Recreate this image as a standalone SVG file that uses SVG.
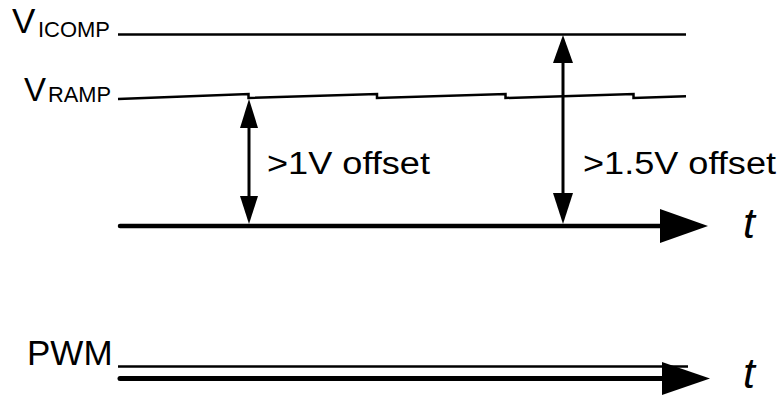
<svg xmlns="http://www.w3.org/2000/svg" width="780" height="398" viewBox="0 0 780 398">
<style>
text{font-family:"Liberation Sans",Arial,sans-serif;fill:#000}
.ln{stroke:#000;fill:none}
.t{font-style:italic;font-size:43px}
.lab{font-size:31px}
</style>
<rect width="780" height="398" fill="#fff"/>
<g id="labels">
<g id="vicomp"><text x="12" y="33" font-size="35">V</text><text x="38" y="37" font-size="22" textLength="72" lengthAdjust="spacingAndGlyphs">ICOMP</text></g>
<g id="vramp"><text x="24" y="101" font-size="33">V</text><text x="48" y="102" font-size="22" textLength="63" lengthAdjust="spacingAndGlyphs">RAMP</text></g>
<g id="pwm"><text x="27" y="365" font-size="35">PWM</text></g>
<g id="off1"><text class="lab" x="267" y="174" textLength="163" lengthAdjust="spacingAndGlyphs">&gt;1V offset</text></g>
<g id="off2"><text class="lab" x="583" y="174" textLength="193" lengthAdjust="spacingAndGlyphs">&gt;1.5V offset</text></g>
<g id="t1"><text class="t" x="743" y="238">t</text></g>
<g id="t2"><text class="t" x="743" y="388">t</text></g>
</g>
<g id="connectors">
<line class="ln" x1="118" y1="34.5" x2="686" y2="34.5" stroke-width="2.5"/>
<polyline class="ln" stroke-width="2.5" points="118,99 248.5,94 248.5,98 377,94 377,98 505.5,94 505.5,98 633.5,94 633.5,98 686,96.3"/>
<line class="ln" x1="120" y1="226" x2="665" y2="226" stroke-width="4.5" stroke-linecap="round"/>
<path d="M660,209 L708,226 L660,243 Z" fill="#000"/>
<line class="ln" x1="249" y1="126" x2="249" y2="198" stroke-width="3"/>
<path d="M249,99 L258,128 L240,128 Z" fill="#000"/>
<path d="M249,224 L258,196 L240,196 Z" fill="#000"/>
<line class="ln" x1="563" y1="60" x2="563" y2="196" stroke-width="3"/>
<path d="M563,35 L573,63 L553,63 Z" fill="#000"/>
<path d="M563,224 L573,193 L553,193 Z" fill="#000"/>
<line class="ln" x1="118" y1="366.5" x2="688" y2="366.5" stroke-width="2.5"/>
<line class="ln" x1="120" y1="378.5" x2="665" y2="378.5" stroke-width="5" stroke-linecap="round"/>
<path d="M662,362 L710,378.5 L662,395 Z" fill="#000"/>
</g>
</svg>
